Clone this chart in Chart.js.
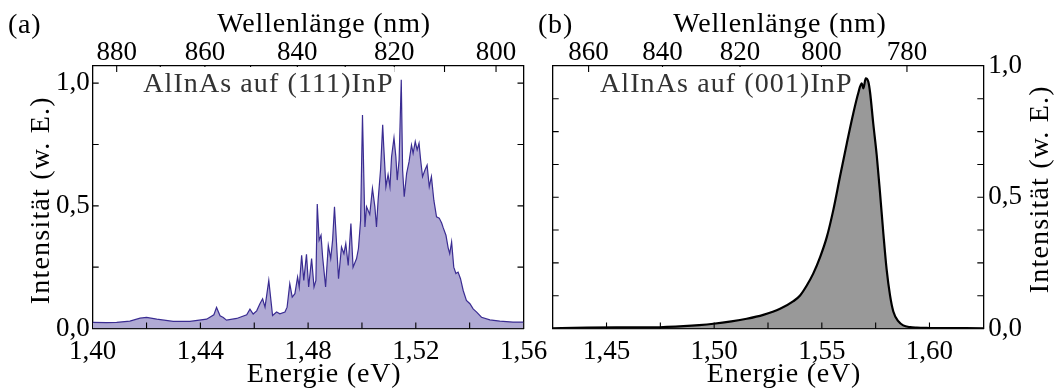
<!DOCTYPE html>
<html>
<head>
<meta charset="utf-8">
<script src="https://cdn.jsdelivr.net/npm/chart.js@4.4.1/dist/chart.umd.min.js"></script>
<style>
  html, body { margin: 0; padding: 0; background: #fff; }
  body { width: 1058px; height: 390px; position: relative; overflow: hidden; }
  .panel { position: absolute; top: 0; height: 390px; }
  #panelA { left: 0; width: 560px; }
  #panelB { left: 530px; width: 528px; }
</style>
</head>
<body>
<div class="panel" id="panelA"><canvas id="chartA"></canvas></div>
<div class="panel" id="panelB"><canvas id="chartB"></canvas></div>
<script>
const HC = 1239.84; // eV * nm

// (a) AlInAs auf (111)InP
const energyA = [
    1.4000, 1.4050, 1.4089, 1.4138, 1.4176, 1.4200, 1.4238, 1.4299, 1.4361, 1.4423,
    1.4450, 1.4460, 1.4473, 1.4485, 1.4497, 1.4535, 1.4572, 1.4584, 1.4596, 1.4609,
    1.4621, 1.4631, 1.4640, 1.4654, 1.4668, 1.4683, 1.4695, 1.4714, 1.4722, 1.4732,
    1.4741, 1.4751, 1.4761, 1.4767, 1.4776, 1.4784, 1.4794, 1.4802, 1.4813, 1.4822,
    1.4829, 1.4834, 1.4841, 1.4848, 1.4854, 1.4865, 1.4875, 1.4884, 1.4891, 1.4898,
    1.4913, 1.4924, 1.4933, 1.4940, 1.4949, 1.4959, 1.4967, 1.4980, 1.4987, 1.4995,
    1.5002, 1.5011, 1.5017, 1.5029, 1.5039, 1.5048, 1.5054, 1.5060, 1.5069, 1.5077,
    1.5081, 1.5089, 1.5097, 1.5104, 1.5110, 1.5119, 1.5126, 1.5131, 1.5138, 1.5146,
    1.5151, 1.5157, 1.5166, 1.5175, 1.5184, 1.5190, 1.5198, 1.5205, 1.5212, 1.5218,
    1.5225, 1.5234, 1.5242, 1.5250, 1.5258, 1.5267, 1.5277, 1.5287, 1.5296, 1.5302,
    1.5312, 1.5320, 1.5326, 1.5333, 1.5341, 1.5349, 1.5357, 1.5366, 1.5376, 1.5388,
    1.5401, 1.5413, 1.5426, 1.5444, 1.5475, 1.5512, 1.5561, 1.5600
];
const intensityA = [
    0.025, 0.024, 0.025, 0.030, 0.042, 0.045, 0.038, 0.029, 0.029, 0.038,
    0.056, 0.086, 0.052, 0.045, 0.034, 0.041, 0.056, 0.079, 0.059, 0.072,
    0.101, 0.121, 0.087, 0.196, 0.053, 0.067, 0.060, 0.067, 0.087, 0.183,
    0.128, 0.142, 0.210, 0.169, 0.298, 0.196, 0.302, 0.169, 0.285, 0.169,
    0.196, 0.507, 0.360, 0.380, 0.291, 0.169, 0.339, 0.285, 0.360, 0.496,
    0.203, 0.332, 0.305, 0.346, 0.257, 0.428, 0.250, 0.285, 0.326, 0.441,
    0.870, 0.414, 0.496, 0.465, 0.571, 0.496, 0.414, 0.523, 0.646, 0.830,
    0.741, 0.578, 0.627, 0.578, 0.700, 0.777, 0.700, 0.605, 0.687, 1.014,
    0.646, 0.537, 0.632, 0.680, 0.748, 0.714, 0.762, 0.728, 0.755, 0.687,
    0.619, 0.646, 0.666, 0.578, 0.619, 0.523, 0.455, 0.450, 0.430, 0.410,
    0.380, 0.330, 0.305, 0.353, 0.250, 0.224, 0.230, 0.203, 0.155, 0.114,
    0.101, 0.080, 0.067, 0.046, 0.035, 0.030, 0.026, 0.026
];

// (b) AlInAs auf (001)InP
const energyB = [
    1.4250, 1.4547, 1.4702, 1.4780, 1.4857, 1.4930, 1.4996, 1.5080, 1.5151, 1.5228,
    1.5306, 1.5368, 1.5399, 1.5430, 1.5460, 1.5492, 1.5523, 1.5553, 1.5584, 1.5616,
    1.5646, 1.5669, 1.5685, 1.5693, 1.5704, 1.5716, 1.5724, 1.5739, 1.5755, 1.5770,
    1.5786, 1.5801, 1.5817, 1.5832, 1.5855, 1.5878, 1.5910, 1.5941, 1.6000, 1.6250
];
const intensityB = [
    0.001, 0.004, 0.004, 0.006, 0.009, 0.013, 0.018, 0.027, 0.037, 0.052,
    0.075, 0.104, 0.126, 0.164, 0.209, 0.272, 0.348, 0.450, 0.577, 0.705,
    0.819, 0.896, 0.934, 0.915, 0.953, 0.940, 0.900, 0.780, 0.660, 0.520,
    0.360, 0.225, 0.125, 0.065, 0.028, 0.012, 0.005, 0.003, 0.002, 0.001
];

// tick labels
const energyLabelsA = [1.40, 1.44, 1.48, 1.52, 1.56];
const energyLabelsB = [1.45, 1.50, 1.55, 1.60];
const intensityLabels = [0.0, 0.5, 1.0];
const wavelengthTicksA = [880, 870, 860, 850, 840, 830, 820, 810, 800];
const wavelengthLabelsA = [880, 860, 840, 820, 800];
const wavelengthTicksB = [860, 840, 820, 800, 780];
const wavelengthLabelsB = [860, 840, 820, 800, 780];

Chart.defaults.font.family = "'Liberation Serif', 'Times New Roman', serif";
Chart.defaults.font.size = 27;
Chart.defaults.color = '#000';

function fmt(v, d) {
    return v.toFixed(d).replace('.', ',');
}

function labelIf(list, v, d) {
    return list.some(l => Math.abs(l - v) < 1e-6) ? fmt(v, d) : '';
}

// short ticks pointing into the plot box, on all four sides
const innerTicks = {
    id: 'innerTicks',
    afterDatasetsDraw(chart) {
        const {ctx, chartArea: a} = chart;
        const len = 6;
        ctx.save();
        ctx.strokeStyle = '#000';
        ctx.lineWidth = 1.1;
        ctx.beginPath();
        Object.values(chart.scales).forEach(s => {
            s.ticks.forEach(t => {
                const p = s.getPixelForValue(t.value);
                if (s.isHorizontal()) {
                    if (p <= a.left + 1 || p >= a.right - 1) return;
                    const y0 = s.position === 'top' ? a.top : a.bottom;
                    const dir = s.position === 'top' ? 1 : -1;
                    ctx.moveTo(p, y0);
                    ctx.lineTo(p, y0 + dir * len);
                } else {
                    if (p <= a.top + 1 || p >= a.bottom - 1) return;
                    const x0 = s.position === 'left' ? a.left : a.right;
                    const dir = s.position === 'left' ? 1 : -1;
                    ctx.moveTo(x0, p);
                    ctx.lineTo(x0 + dir * len, p);
                }
            });
        });
        ctx.stroke();
        ctx.restore();
    }
};

// panel letter, axis titles and the sample label
const panelText = {
    id: 'panelText',
    afterDraw(chart, args, o) {
        const {ctx, chartArea: a} = chart;
        const cx = (a.left + a.right) / 2;
        const cy = (a.top + a.bottom) / 2;
        ctx.save();
        ctx.font = "28px 'Liberation Serif'";
        ctx.letterSpacing = '0.8px';
        ctx.fillStyle = '#000';
        ctx.textBaseline = 'alphabetic';

        ctx.textAlign = 'left';
        ctx.fillText(o.letter, 8, 33);

        ctx.textAlign = 'center';
        ctx.fillText('Wellenlänge (nm)', cx + o.topShift, 32);
        ctx.fillText('Energie (eV)', cx + o.bottomShift, 382);

        // sample label on a white patch
        ctx.letterSpacing = '1.1px';
        const w = ctx.measureText(o.sample).width;
        const tx = a.left + o.sampleDx;
        ctx.fillStyle = '#fff';
        ctx.fillRect(tx - 3, a.top + 1, w + 4, 33);
        ctx.fillStyle = '#333';
        ctx.textAlign = 'left';
        ctx.fillText(o.sample, tx, a.top + 26);

        ctx.letterSpacing = '1.2px';
        ctx.fillStyle = '#000';
        ctx.textAlign = 'center';
        ctx.textBaseline = 'middle';
        const yx = o.yTitleSide === 'left' ? a.left - o.yTitleDx : a.right + o.yTitleDx;
        ctx.translate(yx, cy + o.yTitleDy);
        ctx.rotate(-Math.PI / 2);
        ctx.fillText('Intensität (w. E.)', 0, 0);
        ctx.restore();
    }
};

function makePanel(id, p) {
    const border = {display: true, color: '#000', width: 1.3};
    const grid = {display: false, drawTicks: false};
    return new Chart(document.getElementById(id), {
        type: 'line',
        data: {
            datasets: [{
                data: p.energy.map((e, i) => ({x: e, y: p.intensity[i]})),
                borderColor: p.lineColor,
                borderWidth: p.lineWidth,
                backgroundColor: p.fillColor,
                fill: 'origin',
                pointRadius: 0,
                tension: p.tension,
                cubicInterpolationMode: p.tension > 0 ? 'monotone' : 'default'
            }]
        },
        options: {
            responsive: true,
            maintainAspectRatio: false,
            animation: false,
            events: [],
            layout: {padding: 0},
            plugins: {
                legend: {display: false},
                tooltip: {enabled: false},
                panelText: p.text
            },
            scales: {
                x: {
                    type: 'linear', position: 'bottom', min: p.xMin, max: p.xMax, z: 1,
                    grid: grid, border: border,
                    ticks: {
                        stepSize: p.xStep, autoSkip: false, maxRotation: 0, minRotation: 0, padding: 7,
                        callback: v => labelIf(p.energyLabels, v, 2)
                    },
                    afterFit: s => { s.height = p.bottomH; }
                },
                xTop: {
                    type: 'linear', position: 'top', min: p.xMin, max: p.xMax, z: 1,
                    grid: grid, border: border,
                    afterBuildTicks: s => {
                        s.ticks = p.wlTicks.map(l => ({value: HC / l}));
                    },
                    ticks: {
                        autoSkip: false, maxRotation: 0, minRotation: 0, padding: -3,
                        callback: v => {
                            const l = Math.round(HC / v);
                            return p.wlLabels.includes(l) ? String(l) : '';
                        }
                    },
                    afterFit: s => { s.height = p.topH; }
                },
                y: {
                    position: 'left', min: 0, max: p.yMax, z: 1,
                    grid: grid, border: border,
                    ticks: {
                        stepSize: p.yStep, includeBounds: false, autoSkip: false, padding: 3,
                        display: p.yLabelSide === 'left',
                        callback: v => labelIf(intensityLabels, v, 1)
                    },
                    afterFit: s => { s.width = p.leftW; }
                },
                yRight: {
                    position: 'right', min: 0, max: p.yMax, z: 1,
                    grid: grid, border: border,
                    ticks: {
                        stepSize: p.yStep, includeBounds: false, autoSkip: false, padding: 5,
                        display: p.yLabelSide === 'right',
                        callback: v => labelIf(intensityLabels, v, 1)
                    },
                    afterFit: s => { s.width = p.rightW; }
                }
            }
        },
        plugins: [innerTicks, panelText]
    });
}

makePanel('chartA', {
    energy: energyA, intensity: intensityA,
    lineColor: '#3a2c92', lineWidth: 1.2, fillColor: '#b0aad4', tension: 0,
    xMin: 1.40, xMax: 1.56, xStep: 0.02, energyLabels: energyLabelsA,
    wlTicks: wavelengthTicksA, wlLabels: wavelengthLabelsA,
    yMax: 1.07, yStep: 0.25, yLabelSide: 'left',
    topH: 66, bottomH: 61.5, leftW: 92.7, rightW: 36.5,
    text: {
        letter: '(a)', topShift: 16, bottomShift: 16,
        sample: 'AlInAs auf (111)InP', sampleDx: 50.5,
        yTitleSide: 'left', yTitleDx: 50.7, yTitleDy: 3
    }
});

makePanel('chartB', {
    energy: energyB, intensity: intensityB,
    lineColor: '#000', lineWidth: 2.2, fillColor: '#999999', tension: 0.3,
    xMin: 1.425, xMax: 1.625, xStep: 0.025, energyLabels: energyLabelsB,
    wlTicks: wavelengthTicksB, wlLabels: wavelengthLabelsB,
    yMax: 1.0, yStep: 0.125, yLabelSide: 'right',
    topH: 66, bottomH: 61.5, leftW: 22.7, rightW: 74.7,
    text: {
        letter: '(b)', topShift: 12, bottomShift: 16,
        sample: 'AlInAs auf (001)InP', sampleDx: 47.3,
        yTitleSide: 'right', yTitleDx: 57.7, yTitleDy: -8
    }
});
</script>
</body>
</html>
